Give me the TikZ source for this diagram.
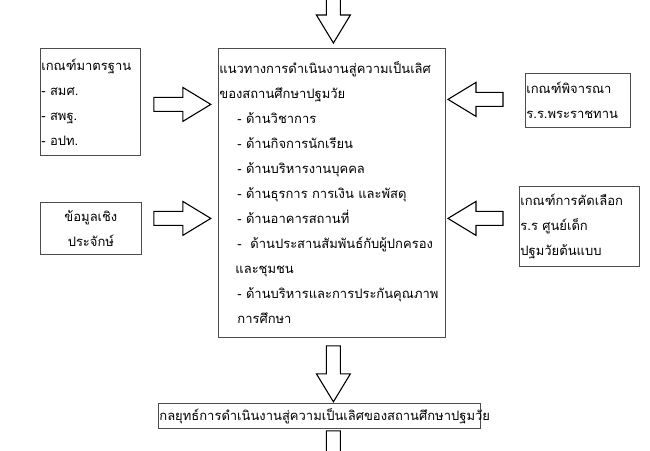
\documentclass[tikz,border=0pt]{standalone}
\usepackage{fontspec}
\setmainfont[Script=Thai]{Loma}
\usetikzlibrary{calc}
\newcommand{\thaitext}{\fontsize{13}{25}\selectfont}
\tikzset{
  box/.style={draw=black!70, line width=0.8pt, inner sep=1pt, anchor=north west, align=left, font=\thaitext},
  arrowline/.style={draw=black, line width=1.1pt, fill=white, line join=miter},
  pics/blockarrow/.style={code={
    \draw[arrowline] (0,-7) -- ({#1-28},-7) -- ({#1-28},-17) -- (#1,0)
      -- ({#1-28},17) -- ({#1-28},7) -- (0,7) -- cycle;}},
}

\begin{document}
\begin{tikzpicture}[x=1pt, y=-1pt]
  \fill[white] (0,0) rectangle (650,450);
  \useasboundingbox (0,0) rectangle (650,450);

  % boxes
  \node[box, minimum width=100pt, minimum height=107pt, text width=98pt] (std) at (40,48)
    {เกณฑ์มาตรฐาน\\- สมศ.\\- สพฐ.\\- อปท.};
  \node[box, align=center, minimum width=101pt, minimum height=52pt, text width=99pt] (evid) at (40,202)
    {ข้อมูลเชิง\\ประจักษ์};
  \node[box, minimum width=227pt, minimum height=289pt, text width=225pt] (guide) at (218,48)
    {แนวทางการดำเนินงานสู่ความเป็นเลิศ\\ของสถานศึกษาปฐมวัย\\
     \hspace*{18pt}- ด้านวิชาการ\\
     \hspace*{18pt}- ด้านกิจการนักเรียน\\
     \hspace*{18pt}- ด้านบริหารงานบุคคล\\
     \hspace*{18pt}- ด้านธุรการ การเงิน และพัสดุ\\
     \hspace*{18pt}- ด้านอาคารสถานที่\\
     \hspace*{18pt}-\ \ ด้านประสานสัมพันธ์กับผู้ปกครอง\\
     \hspace*{16pt}และชุมชน\\
     \hspace*{18pt}- ด้านบริหารและการประกันคุณภาพ\\
     \hspace*{18pt}การศึกษา};
  \node[box, minimum width=105pt, minimum height=54pt, text width=103pt] (royal) at (525,73)
    {เกณฑ์พิจารณา\\ร.ร.พระราชทาน};
  \node[box, minimum width=120pt, minimum height=80pt, text width=118pt] (model) at (519,186)
    {เกณฑ์การคัดเลือก\\ร.ร ศูนย์เด็ก\\ปฐมวัยต้นแบบ};
  \node[box, minimum width=322pt, minimum height=25pt, text width=320pt] (strat) at (158,403)
    {กลยุทธ์การดำเนินงานสู่ความเป็นเลิศของสถานศึกษาปฐมวัย};

  % block arrows
  \pic at ($(guide.north)+(1.5,-53)$) [rotate=-90] {blockarrow=48};
  \pic at ($(std.east)+(13,2.5)$) {blockarrow=57};
  \pic at ($(evid.east)+(12,-10)$) {blockarrow=57};
  \pic at ($(royal.west)+(-22,-1)$) [rotate=180] {blockarrow=55};
  \pic at ($(model.west)+(-16,-8)$) [rotate=180] {blockarrow=55};
  \pic at ($(guide.south)+(1.5,8)$) [rotate=-90] {blockarrow=56};
  \pic at ($(strat.south)+(14,2)$) [rotate=-90] {blockarrow=50};
\end{tikzpicture}
\end{document}
